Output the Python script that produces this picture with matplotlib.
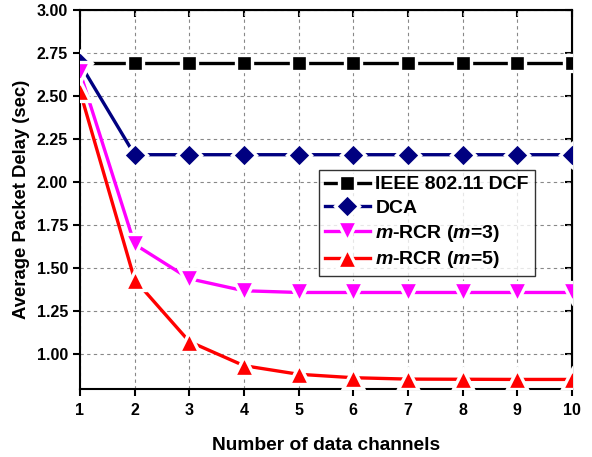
import matplotlib
matplotlib.use("Agg")
import matplotlib.pyplot as plt
from matplotlib.ticker import FormatStrFormatter

plt.rcParams['font.family'] = ['Liberation Sans', 'DejaVu Sans']
plt.rcParams['font.weight'] = 'bold'
plt.rcParams['mathtext.fontset'] = 'custom'
plt.rcParams['mathtext.it'] = 'Liberation Sans:bold:italic'
plt.rcParams['mathtext.rm'] = 'Liberation Sans:bold'

channels = [1, 2, 3, 4, 5, 6, 7, 8, 9, 10]
dcf = [2.69, 2.69, 2.69, 2.69, 2.69, 2.69, 2.69, 2.69, 2.69, 2.69]
dca = [2.69, 2.16, 2.16, 2.16, 2.16, 2.16, 2.16, 2.16, 2.16, 2.16]
rcr3 = [2.64, 1.64, 1.44, 1.37, 1.36, 1.36, 1.36, 1.36, 1.36, 1.36]
rcr5 = [2.53, 1.435, 1.075, 0.935, 0.885, 0.865, 0.857, 0.856, 0.855, 0.855]
yticks = [1.00, 1.25, 1.50, 1.75, 2.00, 2.25, 2.50, 2.75, 3.00]

fig = plt.figure(figsize=(5.92, 4.57), dpi=100)
ax = fig.add_axes([0.135, 0.149, 0.831, 0.829])

common = dict(linewidth=2.4, markeredgecolor='white', markeredgewidth=2.4)
ax.plot(channels, dcf, color='black', marker='s', markersize=12,
        markerfacecolor='black', label='IEEE 802.11 DCF', zorder=3, **common)
ax.plot(channels, dca, color='#000080', marker='D', markersize=12,
        markerfacecolor='#000080', label='DCA', zorder=4, **common)
ax.plot(channels, rcr3, color='#FF00FF', marker='v', markersize=14,
        markerfacecolor='#FF00FF', label=r'$m$-RCR ($m$=3)', zorder=5, **common)
ax.plot(channels, rcr5, color='#FF0000', marker='^', markersize=14,
        markerfacecolor='#FF0000', label=r'$m$-RCR ($m$=5)', zorder=6, **common)

ax.set_xlim(1, 10)
ax.set_ylim(0.8, 3.0)
ax.set_xticks(channels)
ax.set_yticks(yticks)
ax.yaxis.set_major_formatter(FormatStrFormatter('%.2f'))

ax.grid(True, linestyle=(0, (3, 3)), color='#888888', linewidth=0.8)
ax.set_axisbelow(True)

for s in ax.spines.values():
    s.set_linewidth(1.5)

ax.tick_params(axis='both', which='major', labelsize=11.5, width=1.5, length=5,
               direction='out')
ax.tick_params(axis='x', pad=5)
ax2 = ax.secondary_xaxis('top')
ax2.set_xticks(channels)
ax2.tick_params(direction='in', length=5, width=1.5, labeltop=False)
ax3 = ax.secondary_yaxis('right')
ax3.set_yticks(yticks)
ax3.tick_params(direction='in', length=5, width=1.5, labelright=False)

for lab in ax.get_xticklabels() + ax.get_yticklabels():
    lab.set_fontweight('bold')

ax.set_xlabel('Number of data channels', fontsize=13.8, fontweight='bold', labelpad=14)
ax.set_ylabel('Average Packet Delay (sec)', fontsize=13.3, fontweight='bold', labelpad=5)

leg = ax.legend(loc='upper left', bbox_to_anchor=(0.486, 0.578), borderaxespad=0,
                fontsize=14, frameon=True, fancybox=False, edgecolor='black',
                handlelength=2.3, labelspacing=0.3, borderpad=0.3,
                handletextpad=0.3)
leg.get_frame().set_linewidth(1.0)
for t in leg.get_texts():
    t.set_fontweight('bold')

fig.savefig('out.png', dpi=100)
